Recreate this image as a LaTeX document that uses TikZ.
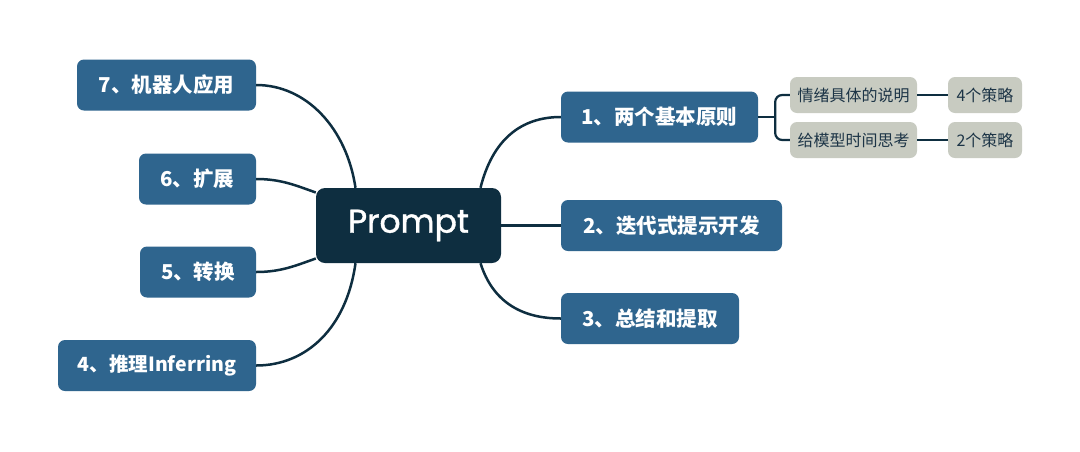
\documentclass[tikz,border=0pt]{standalone}
\usepackage{fontspec}
\setmainfont{Noto Sans CJK SC}
\newfontfamily\cjk{Noto Sans CJK SC}
\newfontfamily\pop[FakeBold=1.2]{Poppins}
\usetikzlibrary{calc}
\definecolor{dark}{RGB}{14,46,64}
\definecolor{blue}{RGB}{47,101,142}
\definecolor{grey}{RGB}{200,203,193}
\definecolor{subtext}{RGB}{28,52,70}
\tikzset{
  topic/.style={fill=blue, rounded corners=7pt, text=white, font=\cjk\bfseries\fontsize{20.5}{24}\selectfont, minimum height=51pt, inner sep=0pt, anchor=center},
  sub/.style={fill=grey, rounded corners=7pt, text=subtext, font=\cjk\fontsize{16}{19}\selectfont, minimum height=36pt, inner sep=0pt},
  link/.style={draw=dark, line width=2.5pt},
}
\begin{document}
\begin{tikzpicture}[x=1pt,y=-1pt]
\useasboundingbox[fill=white] (0,0) rectangle (1080,451);
\node[fill=dark, rounded corners=9pt, minimum width=185pt, minimum height=75pt, text=white, font=\pop\fontsize{33}{38}\selectfont, inner sep=0pt] (P) at (408.5,225.5) {Prompt};
\node[topic, minimum width=197pt] (n1) at (659.5,117) {1、两个基本原则};
\node[topic, minimum width=221pt] (n2) at (671.5,225.5) {2、迭代式提示开发};
\node[topic, minimum width=178pt] (n3) at (650,318.5) {3、总结和提取};
\node[topic, minimum width=198pt] (n4) at (157,365.5) {\fontsize{19.5}{23}\selectfont 4、推理Inferring};
\node[topic, minimum width=116pt] (n5) at (198,272) {5、转换};
\node[topic, minimum width=117pt] (n6) at (197.5,179) {6、扩展};
\node[topic, minimum width=179pt] (n7) at (166.5,85) {7、机器人应用};
\node[sub, minimum width=127pt] (s1) at (853.5,95) {情绪具体的说明};
\node[sub, minimum width=127pt] (s2) at (853.5,140) {给模型时间思考};
\node[sub, minimum width=74pt] (t1) at (985,95) {4个策略};
\node[sub, minimum width=74pt] (t2) at (985,140) {2个策略};
% right side
\draw[link] ($(P.north)+(72,0)$) .. controls ($(P.north)+(84,-48)$) and ($(n1.west)+(-40,0)$) .. (n1.west);
\draw[link] (P.east) -- (n2.west);
\draw[link] ($(P.south)+(72,0)$) .. controls ($(P.south)+(84,38)$) and ($(n3.west)+(-40,0)$) .. (n3.west);
% left side
\draw[link] ($(P.north)+(-53,0)$) .. controls ($(P.north)+(-62,-60)$) and ($(n7.east)+(50,0)$) .. (n7.east);
\draw[link] ($(P.west)+(0,-33)$) .. controls ($(P.west)+(-20,-40)$) and ($(n6.east)+(25,0)$) .. (n6.east);
\draw[link] ($(P.west)+(0,33)$) .. controls ($(P.west)+(-20,40)$) and ($(n5.east)+(25,0)$) .. (n5.east);
\draw[link] ($(P.south)+(-53,0)$) .. controls ($(P.south)+(-62,65)$) and ($(n4.east)+(50,0)$) .. (n4.east);
% bracket
\coordinate (br) at ($(n1.east)+(17,0)$);
\draw[link, line width=2.2pt] (n1.east) -- (br);
\draw[link, line width=2.2pt, rounded corners=7pt] (s1.west) -| (br) |- (s2.west);
\draw[link, line width=2.2pt] (s1.east) -- (t1.west);
\draw[link, line width=2.2pt] (s2.east) -- (t2.west);
\end{tikzpicture}
\end{document}
